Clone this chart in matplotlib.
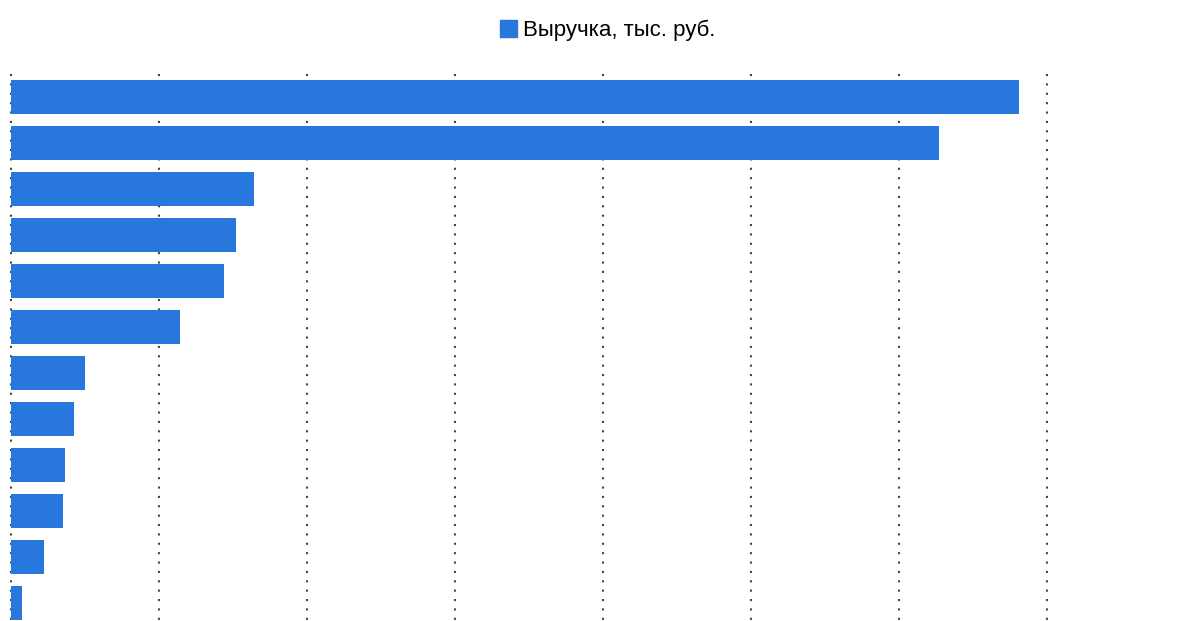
import numpy as np
import matplotlib.pyplot as plt
from matplotlib.patches import Patch

# Выручка по компаниям, тыс. руб. (сверху вниз)
companies = ["1", "2", "3", "4", "5", "6", "7", "8", "9", "10", "11", "12"]
revenue = [136200, 125400, 32800, 30400, 28800, 22800, 10000, 8500, 7300, 7000, 4500, 1500]
grid_ticks = [0, 20000, 40000, 60000, 80000, 100000, 120000, 140000]

bar_color = "#2877dd"
font = ["Liberation Sans Narrow", "Liberation Sans", "DejaVu Sans"]

fig = plt.figure(figsize=(11.92, 6.21), dpi=100)
ax = fig.add_axes([11 / 1192, -5 / 621, 1036 / 1192, 552 / 621])

y = np.arange(len(companies))
ax.barh(y, revenue, height=0.74, color=bar_color, zorder=2)

ax.set_xlim(grid_ticks[0], grid_ticks[-1])
ax.set_ylim(len(companies) - 0.5, -0.5)
ax.vlines(grid_ticks, -0.5, len(companies) - 0.5, colors="#444444",
          linewidth=1.5, linestyles=(0, (1, 3.5)), zorder=1, clip_on=False)

for s in ax.spines.values():
    s.set_visible(False)
ax.set_xticks([])
ax.set_yticks([])

leg = fig.legend(handles=[Patch(color=bar_color, label="Выручка, тыс. руб.")],
                 loc="upper center", bbox_to_anchor=(0.51, 1.0), frameon=False,
                 handlelength=0.75, handleheight=0.75, handletextpad=0.3,
                 prop={"family": font, "size": 16})

fig.savefig("out.png", dpi=100)
